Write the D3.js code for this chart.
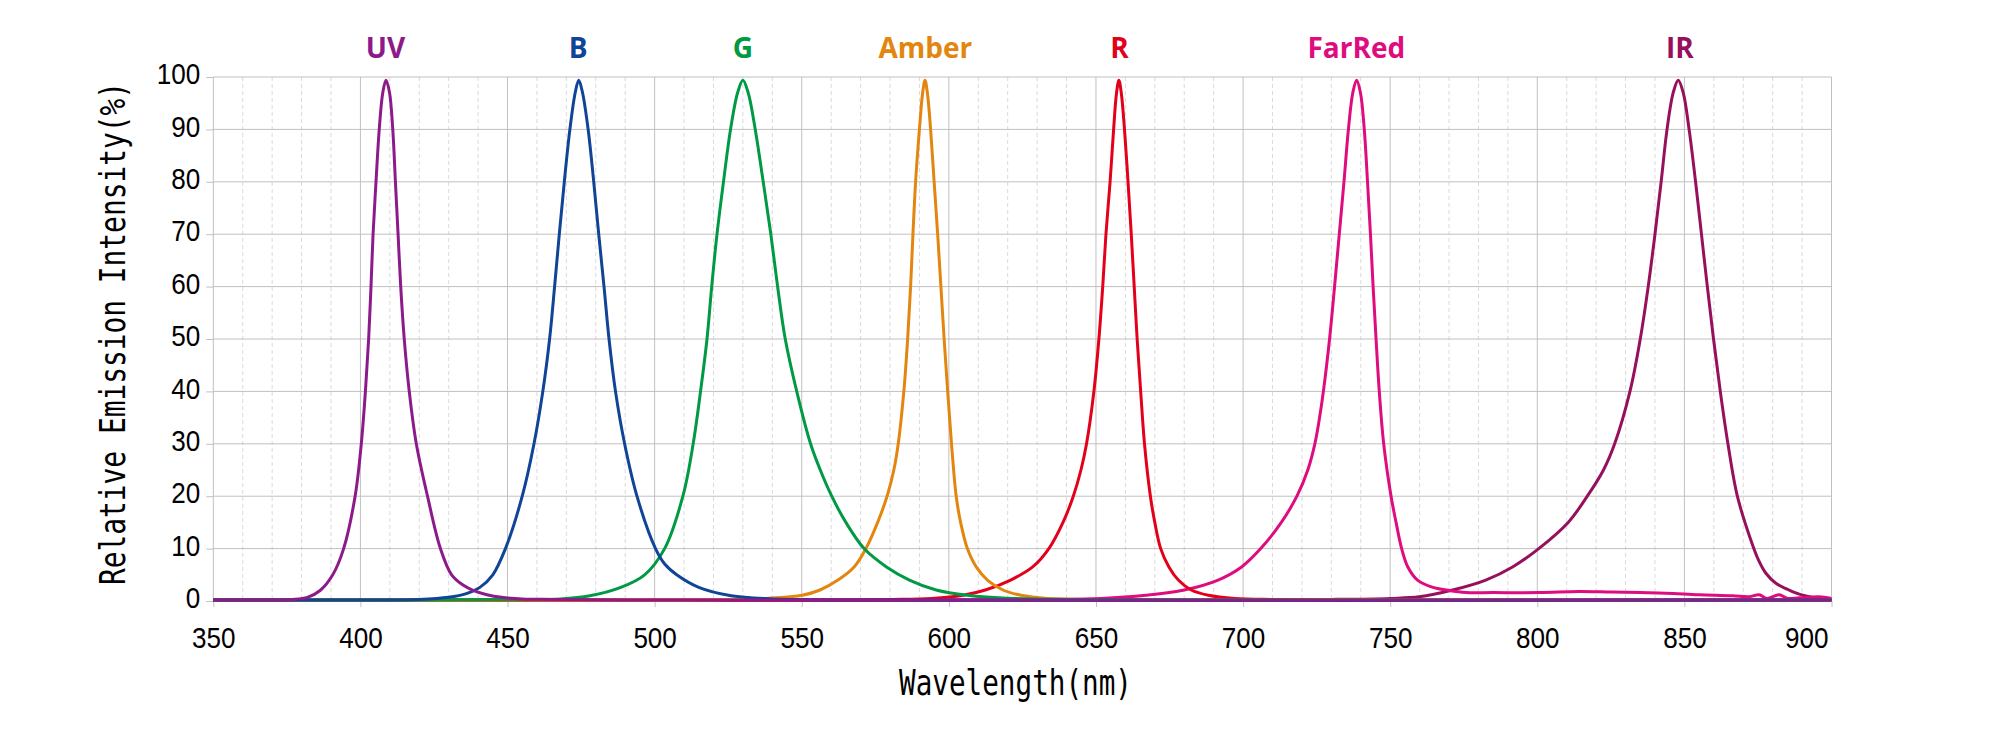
<!DOCTYPE html>
<html><head><meta charset="utf-8">
<script src="https://cdn.jsdelivr.net/npm/d3@7"></script>
<style>body{margin:0;background:#fff;overflow:hidden}</style>
</head><body>
<svg id="chart" width="2001" height="736"></svg>
<script>
// ---- data ----
const seriesNames = ["UV","B","G","Amber","R","FarRed","IR"];
const seriesColors = ["#8C1A8A","#0F4496","#009944","#E2860F","#E3001B","#DE0C7E","#96105C"];
const labelWavelengths = [408.5, 474, 530, 592, 658, 738.5, 848.5];
const xTicks = [350,400,450,500,550,600,650,700,750,800,850,900];
const xMinorTicks = [360,370,380,390,410,420,430,440,460,470,480,490,510,520,530,540,560,570,580,590,610,620,630,640,660,670,680,690,710,720,730,740,760,770,780,790,810,820,830,840,860,870,880,890];
const yTicks = [0,10,20,30,40,50,60,70,80,90,100];
const xTitle = "Wavelength(nm)";
const yTitle = "Relative Emission Intensity(%)";

const UV = [[350,0.2],[368,0.2],[377,0.3],[382,0.7],[386.3,2],[390.6,5],[394.3,10],[398.2,20],[400.3,30],[401.7,40],[402.8,50],[403.6,60],[404.3,70],[405.3,80],[406.4,90],[407.6,97],[408.7,99.4],[409.9,97],[411,90],[411.9,80],[412.8,70],[413.7,60],[414.9,50],[416.6,40],[419,30],[422.8,20],[427.2,10],[431,5],[435,3],[438.5,2],[443,1.2],[448,0.7],[455,0.4],[465,0.3],[490,0.2],[900,0.2]];
const B = [[350,0.2],[400,0.2],[420,0.3],[430,0.7],[436,1.4],[440.6,2.6],[445,5],[449.3,10],[455,20],[459,30],[462,40],[464.3,50],[466,60],[467.6,70],[469.3,80],[471.2,90],[473,97],[474.2,99.4],[475.5,97],[477.4,90],[479.3,80],[481,70],[482.8,60],[484.5,50],[486.7,40],[489.8,30],[494,20],[500.3,10],[503.5,7],[507.5,5],[515,2.6],[526,1],[540,0.4],[560,0.2],[900,0.2]];
const G = [[350,0.2],[420,0.2],[455,0.3],[468,0.4],[478,1],[488.5,2.6],[496.6,5],[503.4,10],[509.6,20],[513.1,30],[515.6,40],[517.8,50],[519.4,60],[521.2,70],[523.4,80],[525.8,90],[528.2,97],[530,99.4],[531.8,97],[534.2,90],[536.9,80],[539.5,70],[541.8,60],[544.4,50],[548.3,40],[553,30],[556.3,25],[560.2,20],[565,15],[571.2,10],[578.8,6.5],[586.6,4],[595.7,2.1],[606.3,1.1],[621.5,0.5],[640,0.3],[700,0.2],[900,0.2]];
const Amber = [[350,0.2],[510,0.2],[525,0.3],[538,0.5],[550.2,1.1],[556.2,2.1],[562.3,4],[567.8,6.5],[571.8,10],[575.8,15],[579,20],[581.3,25],[582.8,30],[584.7,40],[586,50],[587,60],[587.8,70],[588.7,80],[590,90],[591.1,97],[591.9,99.4],[592.7,97],[593.8,90],[595,80],[596.2,70],[597.3,60],[598.4,50],[599.6,40],[600.9,30],[602.5,20],[604,15],[606.3,10],[609.3,6.5],[613.1,4],[618.4,2.1],[624.5,1.1],[633.6,0.5],[645,0.3],[700,0.2],[900,0.2]];
const R = [[350,0.2],[570,0.2],[580,0.3],[594.2,0.5],[604.8,1.1],[612.4,2.1],[621,4],[628.5,6.5],[634,10],[638.8,15],[642.3,20],[644.9,25],[646.8,30],[649.3,40],[651,50],[652.3,60],[653.4,70],[654.8,80],[656,90],[657,97],[657.8,99.4],[658.6,97],[659.7,90],[660.9,80],[662,70],[663,60],[664,50],[665.2,40],[666.5,30],[668.5,20],[670,15],[672,10],[674.8,6.5],[678,4],[682.4,2.1],[688.2,1.1],[697.3,0.5],[710,0.3],[750,0.2],[900,0.2]];
const FarRed = [[350,0.2],[600,0.2],[635,0.3],[651.8,0.5],[666.9,1.1],[680,2.1],[691.5,4],[699.5,6.5],[706,10],[713,15],[718.3,20],[722,25],[724.4,30],[726,35],[727.3,40],[729.4,50],[731.1,60],[732.7,70],[734.3,80],[735.8,90],[737.3,97],[738.6,99.4],[739.9,97],[741.2,90],[742.3,80],[743.3,70],[744.2,60],[745.2,50],[746.3,40],[747.8,30],[750.3,20],[752,15],[753.9,10],[756,6.5],[759.3,4],[764,2.7],[770,2],[775.8,1.6],[785,1.6],[800.7,1.6],[814.2,1.8],[825,1.7],[835,1.6],[843.7,1.5],[855,1.2],[866.4,1.0],[872,0.8],[875.4,1.2],[878,0.5],[882.2,1.2],[885,0.5],[889,0.6],[895.7,0.8],[900,0.5]];
const IR = [[350,0.2],[700,0.2],[730,0.3],[750,0.5],[759.9,0.8],[771.2,2.1],[782.5,4],[791.6,6.5],[800.5,10],[810.5,15],[817,20],[822.5,25],[826.3,30],[831.5,40],[835,50],[837.7,60],[840,70],[842.1,80],[844.1,90],[846.2,97],[847.9,99.4],[849.6,97],[851.6,90],[853.8,80],[855.8,70],[857.8,60],[859.9,50],[862.2,40],[864.8,30],[868,20],[872.6,11.6],[875.2,7.8],[877.7,5.3],[881.1,3.4],[886.7,1.8],[891.3,0.95],[895.8,0.5],[900,0.3]];
const seriesData = [UV, B, G, Amber, R, FarRed, IR];

// ---- layout ----
const svg = d3.select("#chart");
const x = d3.scaleLinear().domain([350, 900]).range([213.3, 1831.5]);
const y = d3.scaleLinear().domain([0, 100]).range([601, 77]);
const numFont = "'Liberation Sans', Arial, sans-serif";
const monoFont = "'DejaVu Sans Mono', 'Liberation Mono', monospace";

// minor vertical grid
svg.append("g").selectAll("line").data(xMinorTicks).join("line")
  .attr("x1", d => x(d)).attr("x2", d => x(d))
  .attr("y1", y(100)).attr("y2", y(0))
  .attr("stroke", "#DADADA").attr("stroke-width", 1).attr("stroke-dasharray", "4,3");
// major vertical grid
svg.append("g").selectAll("line").data(xTicks).join("line")
  .attr("x1", d => x(d)).attr("x2", d => x(d))
  .attr("y1", y(100)).attr("y2", y(0))
  .attr("stroke", "#C0C0C0").attr("stroke-width", 1);
// horizontal grid
svg.append("g").selectAll("line").data(yTicks).join("line")
  .attr("x1", x(350)).attr("x2", x(900))
  .attr("y1", d => y(d)).attr("y2", d => y(d))
  .attr("stroke", "#C0C0C0").attr("stroke-width", 1);

// x axis
const gx = svg.append("g").attr("transform", `translate(0,${y(0)})`)
  .call(d3.axisBottom(x).tickValues(xTicks).tickSize(6).tickPadding(20).tickFormat(d3.format("d")));
gx.select(".domain").remove();
gx.selectAll(".tick line").attr("stroke", "#C0C0C0");
gx.selectAll(".tick text").attr("font-family", numFont).attr("font-size", 30).attr("fill", "#000")
  .attr("textLength", d => String(d).length * 14.5).attr("lengthAdjust", "spacingAndGlyphs");
gx.selectAll(".tick text").filter(d => d === 900).attr("text-anchor", "end").attr("x", -3.5);

// y axis
const gy = svg.append("g").attr("transform", `translate(${x(350)},0)`)
  .call(d3.axisLeft(y).tickValues(yTicks).tickSize(7).tickPadding(6).tickFormat(d3.format("d")));
gy.select(".domain").remove();
gy.selectAll(".tick line").attr("stroke", "#C0C0C0");
gy.selectAll(".tick text").attr("font-family", numFont).attr("font-size", 30).attr("fill", "#000")
  .attr("dy", "0.22em")
  .attr("textLength", d => String(d).length * 14.5).attr("lengthAdjust", "spacingAndGlyphs");

// titles (monospace glyphs narrowed horizontally)
svg.append("text").attr("transform", "translate(1015.5,695) scale(0.79,1)")
  .attr("text-anchor", "middle").attr("font-family", monoFont).attr("font-size", 35)
  .attr("fill", "#000").text(xTitle);
svg.append("text").attr("transform", "translate(124.5,333.5) rotate(-90) scale(0.796,1)")
  .attr("text-anchor", "middle").attr("font-family", monoFont).attr("font-size", 35)
  .attr("fill", "#000").text(yTitle);

// clip
svg.append("clipPath").attr("id", "plotclip").append("rect")
  .attr("x", x(350)).attr("y", y(100) - 10).attr("width", x(900) - x(350)).attr("height", y(0) - y(100) + 14);

// lines (UV drawn last so its baseline sits on top)
const line = d3.line().x(d => x(d[0])).y(d => y(d[1])).curve(d3.curveCatmullRom.alpha(0.5));
const order = [6, 5, 4, 3, 2, 1, 0];
svg.append("g").attr("clip-path", "url(#plotclip)").selectAll("path").data(order).join("path")
  .attr("d", i => line(seriesData[i]))
  .attr("fill", "none").attr("stroke", i => seriesColors[i])
  .attr("stroke-width", 3).attr("stroke-linejoin", "round").attr("stroke-linecap", "round");

// series labels
svg.append("g").selectAll("text").data(seriesNames).join("text")
  .attr("x", (d, i) => x(labelWavelengths[i])).attr("y", 58)
  .attr("text-anchor", "middle").attr("font-family", "'Open Sans', 'Noto Sans', sans-serif")
  .attr("font-weight", 700).attr("font-size", 28)
  .attr("fill", (d, i) => seriesColors[i]).text(d => d);
</script>
</body></html>
